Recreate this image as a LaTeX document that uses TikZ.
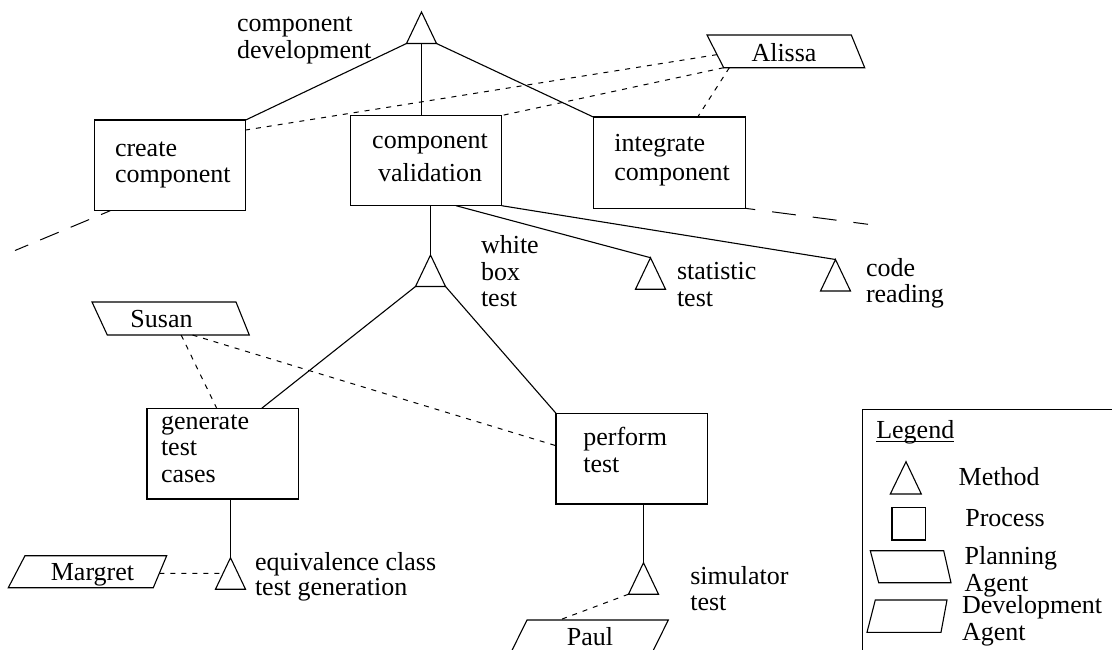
\documentclass[tikz,border=0pt]{standalone}
\usepackage{fontspec}
\setmainfont{Liberation Serif}
\usetikzlibrary{calc}

% text underlined by a rule that cuts through the descenders
\newcommand\legendul[1]{\setbox0\hbox{#1}\rlap{\rule[-3.9pt]{\wd0}{1.1pt}}\box0}
% several lines of text, first baseline at the node's base anchor
\newcommand\stackl[2]{\fontsize{26}{#1}\selectfont\begin{tabular}[t]{@{}l@{}}#2\end{tabular}}
\newcommand\stackc[2]{\fontsize{26}{#1}\selectfont\begin{tabular}[t]{@{}c@{}}#2\end{tabular}}
% process box: name, top-left x, top-left y, width, height
\newcommand\procnode[5]{\node[procbox, minimum width=#4pt, minimum height=#5pt, anchor=north west] (#1) at (#2,#3) {};}
% method triangle: name, apex x, apex y
\newcommand\methodtri[3]{%
  \coordinate (#1-a) at (#2,#3);
  \coordinate (#1-l) at ($(#1-a)+(-15,31.5)$);
  \coordinate (#1-r) at ($(#1-a)+(15,31.5)$);
  \coordinate (#1-b) at ($(#1-a)+(0,31.5)$);
  \draw (#1-a) -- (#1-l) -- (#1-r) -- cycle;}
% agent outline: name, top-left, top-right, bottom-right, bottom-left
\newcommand\agentshape[5]{%
  \coordinate (#1-tl) at #2;
  \coordinate (#1-tr) at #3;
  \coordinate (#1-br) at #4;
  \coordinate (#1-bl) at #5;
  \draw (#1-tl) -- (#1-tr) -- (#1-br) -- (#1-bl) -- cycle;}

\begin{document}
\begin{tikzpicture}[x=1pt, y=-1pt, line width=1.1pt,
  font=\fontsize{26}{26}\selectfont,
  every node/.style={inner sep=0pt, outer sep=0pt},
  procbox/.style={draw, rectangle},
  agentlink/.style={line width=1pt, dash pattern=on 5pt off 6pt},
  openlinkA/.style={line width=1pt, dash pattern=on 20pt off 13pt, dash phase=10pt},
  openlinkB/.style={line width=1pt, dash pattern=on 24pt off 17pt, dash phase=14pt},
  lbl/.style={anchor=base west}]

\useasboundingbox (0,0) rectangle (1112,649);
\clip (0,0) rectangle (1112,649);

% ---- top method: component development
\methodtri{cd}{421.5}{12}
\node[lbl] (cdlbl) at (237,31.7) {\stackl{27}{component\\development}};

% ---- processes
\procnode{create}{94.3}{120}{151.4}{90.7}
\node[lbl] (createtxt) at (115,156) {\stackl{26}{create\\component}};

\procnode{valid}{350.7}{115.5}{151}{90.2}
\node[anchor=base] (validtxt) at (430,148.3) {\stackc{33.4}{component\\validation}};

\procnode{integ}{593.3}{117}{152}{91.3}
\node[lbl] (integtxt) at (614.3,151.7) {\stackl{28.3}{integrate\\component}};

\procnode{gen}{147}{408.3}{151.3}{90.7}
\node[lbl] (gentxt) at (161,429) {\stackl{26.7}{generate\\test\\cases}};

\procnode{perf}{556}{413.3}{151.7}{90.7}
\node[lbl] (perftxt) at (583.3,445) {\stackl{27.3}{perform\\test}};

% ---- methods below component validation
\methodtri{wb}{430.5}{255}
\node[lbl] (wblbl) at (481,253.3) {\stackl{26.7}{white\\box\\test}};
\methodtri{st}{650.5}{257.7}
\node[lbl] (stlbl) at (677,279.3) {\stackl{26.7}{statistic\\test}};
\methodtri{cr}{835.5}{259.5}
\node[lbl] (crlbl) at (866,276.7) {\stackl{25.3}{code\\reading}};
\methodtri{eq}{230.5}{557.7}
\node[lbl] (eqlbl) at (255,570) {\stackl{25.5}{equivalence class\\test generation}};
\methodtri{sim}{643.5}{562.7}
\node[lbl] (simlbl) at (690.3,584) {\stackl{26}{simulator\\test}};

% ---- agents
\agentshape{al}{(707,35)}{(851.3,35)}{(864.7,67.7)}{(723.7,67.7)}
\node[anchor=base] (alissa) at (784,61) {Alissa};
\agentshape{su}{(92,302)}{(236,302)}{(249.3,335)}{(107.3,335)}
\node[anchor=base] (susan) at (161.5,327) {Susan};
\agentshape{ma}{(25,555.7)}{(166.7,555.7)}{(153.3,587.7)}{(8.3,587.7)}
\node[anchor=base] (margret) at (92.5,580) {Margret};
\agentshape{pa}{(527,620)}{(668.3,620)}{(652,653)}{(510.7,653)}
\node[anchor=base] (paul) at (590,645) {Paul};

% ---- decomposition lines
\draw (cd-l) -- (create.north east);
\draw (cd-b) -- (cd-b |- valid.north);
\draw (cd-r) -- (integ.north west);
\draw (wb-a |- valid.south) -- (wb-a);
\draw ([xshift=105.3pt]valid.south west) -- (st-a);
\draw (valid.south east) -- (cr-a);
\draw (wb-l) -- ([xshift=114.7pt]gen.north west);
\draw (wb-r) -- (perf.north west);
\draw (eq-a |- gen.south) -- (eq-a);
\draw (sim-a |- perf.south) -- (sim-a);

% ---- agent assignments
\draw[agentlink] ($(al-tl)!0.6!(al-bl)$) -- ([yshift=-10pt]create.north east);
\draw[agentlink] (al-bl) -- (valid.north east);
\draw[agentlink] ($(al-bl)!0.04!(al-br)$) -- ([xshift=-47.6pt]integ.north east);
\draw[agentlink] ($(su-bl)!0.52!(su-br)$) -- ([xshift=69.7pt]gen.north west);
\draw[agentlink] ($(su-bl)!0.6!(su-br)$) -- ([yshift=-32.4pt]perf.north west);
\draw[agentlink] ($(ma-tr)!0.55!(ma-br)$) -- ($(eq-a)!0.5!(eq-l)$);
\draw[agentlink] (sim-l) -- ($(pa-tl)!0.23!(pa-tr)$);

% ---- links leaving the view
\coordinate (createout) at (15,250.5);
\coordinate (integout) at (868,224.3);
\draw[openlinkA] ([xshift=16pt]create.south west) -- (createout);
\draw[openlinkB] (integ.south east) -- (integout);

% ---- legend
\draw (862.5,409.3) rectangle (1130,680);
\node[lbl] (legtitle) at (876.3,438.3) {\legendul{Legend}};
\draw (906,461.7) -- (921.3,494) -- (890.3,494) -- cycle;
\node[lbl] (legmethod) at (958.7,485) {Method};
\draw (892,507.3) rectangle (925.3,540);
\node[lbl] (legprocess) at (965.3,526.7) {Process};
\draw (870.3,550.7) -- (943.7,550.7) -- (951,582.7) -- (878.7,582.7) -- cycle;
\node[lbl] (legplan) at (964.7,564.3) {\stackl{27.4}{Planning\\Agent}};
\draw (875.3,600) -- (947,600) -- (941,632.3) -- (867,632.3) -- cycle;
\node[lbl] (legdev) at (962,613.3) {\stackl{26.7}{Development\\Agent}};
\end{tikzpicture}
\end{document}
